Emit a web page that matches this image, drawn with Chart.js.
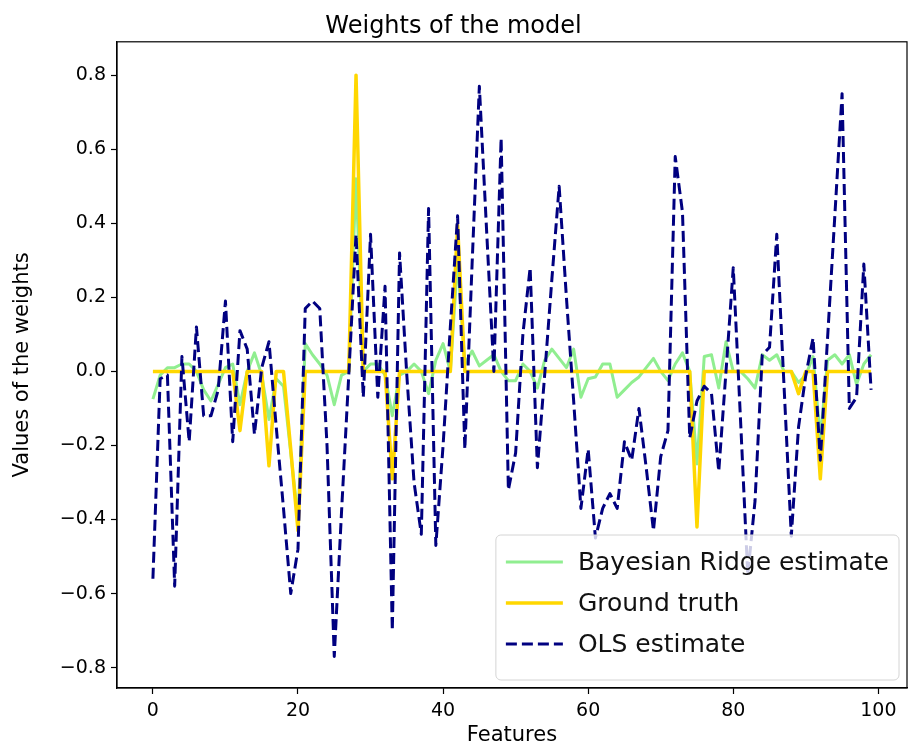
<!DOCTYPE html>
<html>
<head>
<meta charset="utf-8">
<script src="https://cdn.jsdelivr.net/npm/chart.js@4.4.1/dist/chart.umd.min.js"></script>
<style>
	html, body { margin: 0; padding: 0; background: #fff; }
	canvas { display: block; }
</style>
</head>
<body>
<canvas id="chart" width="915" height="748"></canvas>
<script>
// feature index 0..99
const features = Array.from({ length: 100 }, (_, i) => i);

const olsEstimate = [
	-0.56, -0.02, -0.01, -0.58, 0.04, -0.19, 0.12, -0.12, -0.12, -0.05,
	0.19, -0.19, 0.11, 0.06, -0.17, 0.01, 0.08, -0.15, -0.37, -0.60,
	-0.48, 0.17, 0.19, 0.17, -0.20, -0.77, -0.38, -0.01, 0.37, -0.07,
	0.37, -0.07, 0.23, -0.70, 0.32, -0.01, -0.30, -0.44, 0.44, -0.47,
	-0.20, 0.12, 0.42, -0.21, 0.29, 0.77, 0.38, 0.00, 0.63, -0.32,
	-0.22, 0.10, 0.28, -0.26, -0.01, 0.25, 0.50, 0.20, -0.08, -0.37,
	-0.21, -0.45, -0.37, -0.33, -0.37, -0.19, -0.24, -0.10, -0.26, -0.43,
	-0.23, -0.16, 0.58, 0.43, -0.18, -0.08, -0.04, -0.06, -0.27, 0.00,
	0.28, -0.13, -0.55, -0.35, 0.045, 0.065, 0.37, -0.04, -0.445, -0.15,
	-0.01, 0.09, -0.24, 0.09, 0.42, 0.75, -0.10, -0.07, 0.29, -0.05
];

const bayesianEstimate = [
	-0.075, -0.01, 0.01, 0.01, 0.02, 0.02, 0.00, -0.05, -0.08, -0.035,
	0.01, 0.02, -0.09, 0.00, 0.05, -0.01, -0.13, -0.02, -0.04, -0.22,
	-0.40, 0.075, 0.045, 0.02, -0.01, -0.09, -0.01, 0.00, 0.52, 0.00,
	0.02, 0.02, -0.01, -0.12, -0.01, 0.00, 0.02, 0.00, -0.06, 0.03,
	0.075, 0.00, 0.30, 0.02, 0.055, 0.015, 0.03, 0.045, 0.00, -0.025,
	-0.025, 0.02, 0.00, -0.045, 0.03, 0.06, 0.035, 0.01, 0.06, -0.07,
	-0.02, -0.015, 0.02, 0.02, -0.07, -0.05, -0.03, -0.015, 0.01, 0.035,
	0.00, -0.025, 0.02, 0.05, 0.00, -0.25, 0.04, 0.045, -0.045, 0.08,
	0.00, 0.00, -0.02, -0.045, 0.045, 0.03, 0.045, 0.00, 0.00, -0.03,
	-0.01, 0.04, -0.18, 0.03, 0.045, 0.02, 0.045, -0.035, 0.02, 0.045
];

// non-zero entries of the true weights, everything else is 0
const truthIndex = [12, 16, 19, 20, 28, 33, 42, 75, 89, 92];
const truthValue = [-0.16, -0.255, -0.21, -0.43, 0.80, -0.29, 0.395, -0.42, -0.06, -0.29];

const xTicks = [0, 20, 40, 60, 80, 100];
const yTicks = [-0.8, -0.6, -0.4, -0.2, 0.0, 0.2, 0.4, 0.6, 0.8];

const groundTruth = features.map(i => {
	const k = truthIndex.indexOf(i);
	return k >= 0 ? truthValue[k] : 0;
});

const FONT = "'DejaVu Sans', sans-serif";
Chart.defaults.font.family = FONT;
Chart.defaults.color = '#000';

const toPoints = arr => arr.map((y, i) => ({ x: features[i], y }));

// box around the plot, like matplotlib spines
const frame = {
	id: 'frame',
	afterDatasetsDraw(chart) {
		const { ctx, chartArea: a } = chart;
		ctx.save();
		ctx.strokeStyle = '#000';
		ctx.lineWidth = 1.2;
		ctx.strokeRect(a.left, a.top, a.right - a.left, a.bottom - a.top);
		ctx.restore();
	}
};

// legend in the lower right corner, drawn over the lines
const legendBox = {
	id: 'legendBox',
	afterDraw(chart) {
		const { ctx, chartArea: a } = chart;
		const sets = chart.data.datasets.slice().sort((p, q) => p.legendRank - q.legendRank);
		ctx.save();
		ctx.font = `25px ${FONT}`;
		const textW = Math.max(...sets.map(d => ctx.measureText(d.label).width));
		const rowH = 41, pad = 10, sample = 57, gap = 15;
		const w = pad + sample + gap + textW + pad;
		const h = rowH * sets.length + 22;
		const right = a.right - 8, bottom = a.bottom - 8;
		const left = right - w, top = bottom - h;
		ctx.beginPath();
		ctx.roundRect(left, top, w, h, 5);
		ctx.fillStyle = 'rgba(255,255,255,0.8)';
		ctx.fill();
		ctx.strokeStyle = '#d4d4d4';
		ctx.lineWidth = 1;
		ctx.stroke();
		sets.forEach((d, k) => {
			const cy = top + 27 + k * rowH;
			ctx.beginPath();
			ctx.setLineDash(d.borderDash || []);
			ctx.strokeStyle = d.borderColor;
			ctx.lineWidth = d.borderWidth;
			ctx.moveTo(left + pad, cy);
			ctx.lineTo(left + pad + sample, cy);
			ctx.stroke();
			ctx.setLineDash([]);
			ctx.fillStyle = '#111';
			ctx.textBaseline = 'middle';
			ctx.fillText(d.label, left + pad + sample + gap, cy + 1);
		});
		ctx.restore();
	}
};

const canvas = document.getElementById('chart');
new Chart(canvas.getContext('2d'), {
	type: 'line',
	data: {
		datasets: [
			{
				label: 'Bayesian Ridge estimate',
				data: toPoints(bayesianEstimate),
				borderColor: '#90ee90',
				borderWidth: 3,
				order: 2,
				legendRank: 0
			},
			{
				label: 'Ground truth',
				data: toPoints(groundTruth),
				borderColor: '#ffd700',
				borderWidth: 3.5,
				order: 1,
				legendRank: 1
			},
			{
				label: 'OLS estimate',
				data: toPoints(olsEstimate),
				borderColor: '#000080',
				borderWidth: 3,
				borderDash: [11, 5],
				order: 0,
				legendRank: 2
			}
		]
	},
	options: {
		responsive: false,
		animation: false,
		layout: { padding: { left: 0, right: 8, top: 0, bottom: 0 } },
		elements: {
			point: { radius: 0 },
			line: { tension: 0, fill: false, borderCapStyle: 'butt', borderJoinStyle: 'round' }
		},
		scales: {
			x: {
				type: 'linear',
				min: -4.95,
				max: 103.95,
				afterBuildTicks: s => { s.ticks = xTicks.map(v => ({ value: v })); },
				afterFit: s => { s.height = 60; },
				grid: { drawOnChartArea: false, drawTicks: true, tickLength: 6, tickColor: '#000', tickWidth: 1.2 },
				border: { display: true, color: '#000', width: 1.2 },
				ticks: { font: { size: 19 }, padding: 6, maxRotation: 0, callback: v => String(v) },
				title: { display: true, text: 'Features', font: { size: 21 }, padding: { top: 0, bottom: 0 } }
			},
			y: {
				type: 'linear',
				min: -0.855,
				max: 0.89,
				afterBuildTicks: s => { s.ticks = yTicks.map(v => ({ value: v })); },
				afterFit: s => { s.width = 117; },
				grid: { drawOnChartArea: false, drawTicks: true, tickLength: 6, tickColor: '#000', tickWidth: 1.2 },
				border: { display: true, color: '#000', width: 1.2 },
				ticks: {
					font: { size: 19 },
					padding: 5,
					callback: v => (v < 0 ? '\u2212' : '') + Math.abs(v).toFixed(1)
				},
				title: { display: true, text: 'Values of the weights', font: { size: 21 }, padding: { top: 10, bottom: 0 } }
			}
		},
		plugins: {
			legend: { display: false },
			tooltip: { enabled: false },
			title: {
				display: true,
				text: 'Weights of the model',
				font: { size: 24, weight: 'normal', lineHeight: 1.2 },
				color: '#000',
				padding: { top: 12, bottom: 1 }
			}
		}
	},
	plugins: [frame, legendBox]
});
</script>
</body>
</html>
